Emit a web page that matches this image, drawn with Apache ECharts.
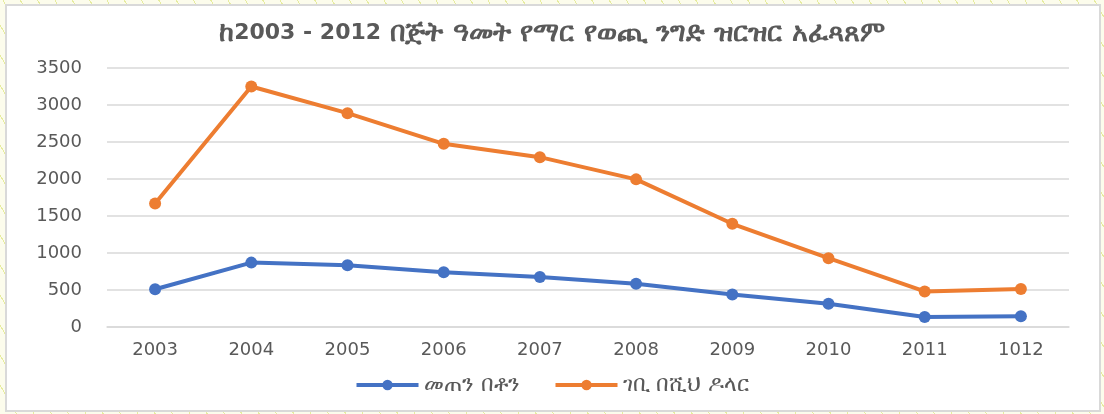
<!DOCTYPE html>
<html>
<head>
<meta charset="utf-8">
<script src="https://cdn.jsdelivr.net/npm/echarts@6/dist/echarts.min.js"></script>
<style>
  html, body { margin: 0; padding: 0; width: 1104px; height: 414px; overflow: hidden; }
  body {
    background: repeating-linear-gradient(60deg, #fcfcec 0px, #fcfcec 14px, #e6ec9e 14px, #e6ec9e 15px);
    position: relative;
  }
  #box { position: absolute; left: 5px; top: 4px; width: 1092px; height: 404px; background: #fff; border: 2px solid #d9d9d9; }
  #chart { position: absolute; left: 0; top: 0; width: 1104px; height: 414px; }
</style>
</head>
<body>
<div id="box"></div>
<div id="chart"></div>
<script>
const titleParts = ['ከ', '2003 - 2012', ' በጅት ዓመት የማር የወጪ ንግድ ዝርዝር አፈጻጸም'];
const categories = ['2003', '2004', '2005', '2006', '2007', '2008', '2009', '2010', '2011', '1012'];
const seriesNames = ['መጠን በቶን', 'ገቢ በሺህ ዶላር'];
const volumeTons = [510, 870, 835, 740, 675, 585, 440, 315, 135, 145];
const revenueThousandUSD = [1670, 3250, 2890, 2475, 2295, 1995, 1395, 930, 480, 515];
const yTicks = { min: 0, max: 3500, interval: 500 };

const chart = echarts.init(document.getElementById('chart'), null, { renderer: 'canvas' });
const fontFamily = '"DejaVu Sans", "Noto Sans", sans-serif';
chart.setOption({
  backgroundColor: 'transparent',
  animation: false,
  title: {
    text: '{e|' + titleParts[0] + '}{d|' + titleParts[1] + '}{e|' + titleParts[2] + '}',
    left: 'center',
    top: 15,
    textStyle: {
      color: '#595959', fontWeight: 'bold', fontFamily: fontFamily,
      rich: {
        e: { color: '#595959', fontSize: 27, fontWeight: 'bold', fontFamily: fontFamily },
        d: { color: '#595959', fontSize: 22, fontWeight: 'bold', fontFamily: fontFamily }
      }
    }
  },
  legend: {
    bottom: 13,
    left: 'center',
    itemWidth: 62,
    itemHeight: 13,
    itemGap: 34,
    lineStyle: { width: 4 },
    textStyle: { color: '#595959', fontSize: 22, fontFamily: fontFamily },
    data: seriesNames
  },
  grid: { left: 107, right: 35, top: 68, bottom: 87, containLabel: false },
  xAxis: {
    type: 'category',
    data: categories,
    boundaryGap: true,
    axisLine: { show: true, lineStyle: { color: '#d9d9d9', width: 1.5 } },
    axisTick: { show: false },
    axisLabel: { color: '#595959', fontSize: 18, margin: 14, fontFamily: fontFamily }
  },
  yAxis: {
    type: 'value',
    min: yTicks.min,
    max: yTicks.max,
    interval: yTicks.interval,
    axisLine: { show: false },
    axisTick: { show: false },
    splitLine: { lineStyle: { color: '#d9d9d9', width: 1.5 } },
    axisLabel: { color: '#595959', fontSize: 18, margin: 25, fontFamily: fontFamily, formatter: function (v) { return String(v); } }
  },
  series: [
    {
      name: seriesNames[0],
      type: 'line',
      data: volumeTons,
      symbol: 'circle',
      symbolSize: 12,
      lineStyle: { color: '#4472C4', width: 4 },
      itemStyle: { color: '#4472C4' }
    },
    {
      name: seriesNames[1],
      type: 'line',
      data: revenueThousandUSD,
      symbol: 'circle',
      symbolSize: 12,
      lineStyle: { color: '#ED7D31', width: 4 },
      itemStyle: { color: '#ED7D31' }
    }
  ]
});
</script>
</body>
</html>
